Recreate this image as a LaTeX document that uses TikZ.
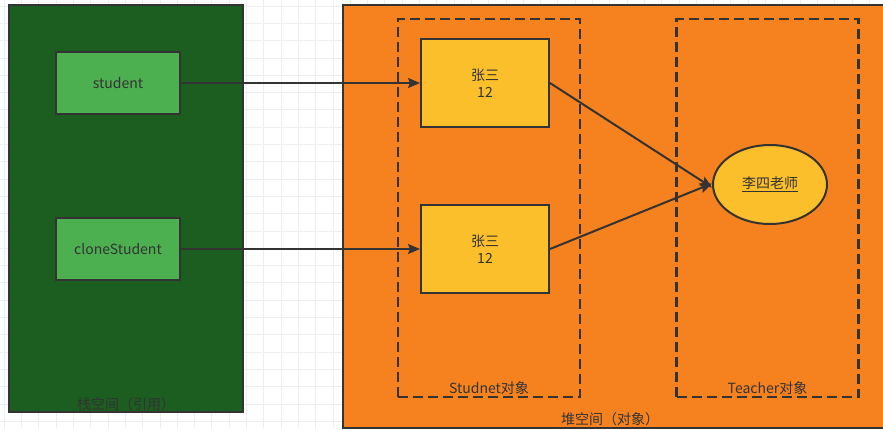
\documentclass[tikz,border=0pt]{standalone}
\usepackage{fontspec}
\setmainfont{Noto Sans CJK SC}
\usetikzlibrary{arrows.meta,positioning,shapes.geometric}
\definecolor{Ink}{HTML}{333333}
\definecolor{Grid}{HTML}{EEEEEE}
\definecolor{StackGreen}{HTML}{1B5E20}
\definecolor{RefGreen}{HTML}{4CAF50}
\definecolor{HeapOrange}{HTML}{F5821F}
\definecolor{ObjYellow}{HTML}{FBBF2C}
\tikzset{
  space/.style={draw=Ink,line width=2pt,inner sep=0pt},
  ref/.style={draw=Ink,fill=RefGreen,line width=2pt,minimum width=124pt,minimum height=62pt,inner sep=0pt,text=Ink},
  obj/.style={draw=Ink,fill=ObjYellow,line width=2pt,minimum width=128pt,minimum height=88pt,inner sep=0pt,align=center,text=Ink},
  group/.style={draw=Ink,line width=2.4pt,dash pattern=on 10pt off 5pt,minimum width=182pt,minimum height=378pt,inner sep=0pt},
  teacher/.style={draw=Ink,fill=ObjYellow,line width=2pt,ellipse,minimum width=114pt,minimum height=79pt,inner sep=0pt,text=Ink},
  lbl/.style={inner sep=0pt,text=Ink},
  arr/.style={-{Stealth[length=12pt,width=10pt,inset=2pt]},draw=Ink,line width=2pt}
}
\begin{document}
\begin{tikzpicture}[x=1pt,y=-1pt,font=\fontsize{14}{17}\selectfont]
  \useasboundingbox[fill=white] (0,0) rectangle (883,429);
  % faint canvas grid
  \foreach \k in {0,...,51} {
    \draw[Grid,line width=0.7pt] (4.2+17.3*\k,0) -- (4.2+17.3*\k,429);
  }
  \foreach \k in {0,...,24} {
    \draw[Grid,line width=0.7pt] (0,6+17.3*\k) -- (883,6+17.3*\k);
  }
  % stack side
  \node[space,fill=StackGreen,minimum width=234pt,minimum height=407pt] (stack) at (126,208.5) {};
  \node[lbl,above=2pt of stack.south] (stacklbl) {栈空间（引用）};
  \node[ref] (student) at (118,83) {student};
  \node[ref] (clone) at (118,249) {cloneStudent};
  % heap side
  \node[space,fill=HeapOrange,minimum width=547pt,minimum height=423pt] (heap) at (616.5,216.5) {};
  \node[lbl] (heaplbl) at (610,419) {堆空间（对象）};
  \node[group] (stugrp) at (489,208) {};
  \node[lbl,above=3pt of stugrp.south] (stugrplbl) {Studnet对象};
  \node[group] (teagrp) at (767.5,208) {};
  \node[lbl,above=3pt of teagrp.south] (teagrplbl) {Teacher对象};
  \node[obj] (zs1) at (485,83) {张三\\12};
  \node[obj] (zs2) at (485,249) {张三\\12};
  \node[teacher] (ls) at (770,184.5) {\underline{李四老师}};
  % references
  \draw[arr] (student) -- (zs1);
  \draw[arr] (clone) -- (zs2);
  \draw[arr] (zs1.east) -- ([yshift=-3pt]ls.west);
  \draw[arr] (zs2.east) -- ([yshift=1pt]ls.west);
\end{tikzpicture}
\end{document}
